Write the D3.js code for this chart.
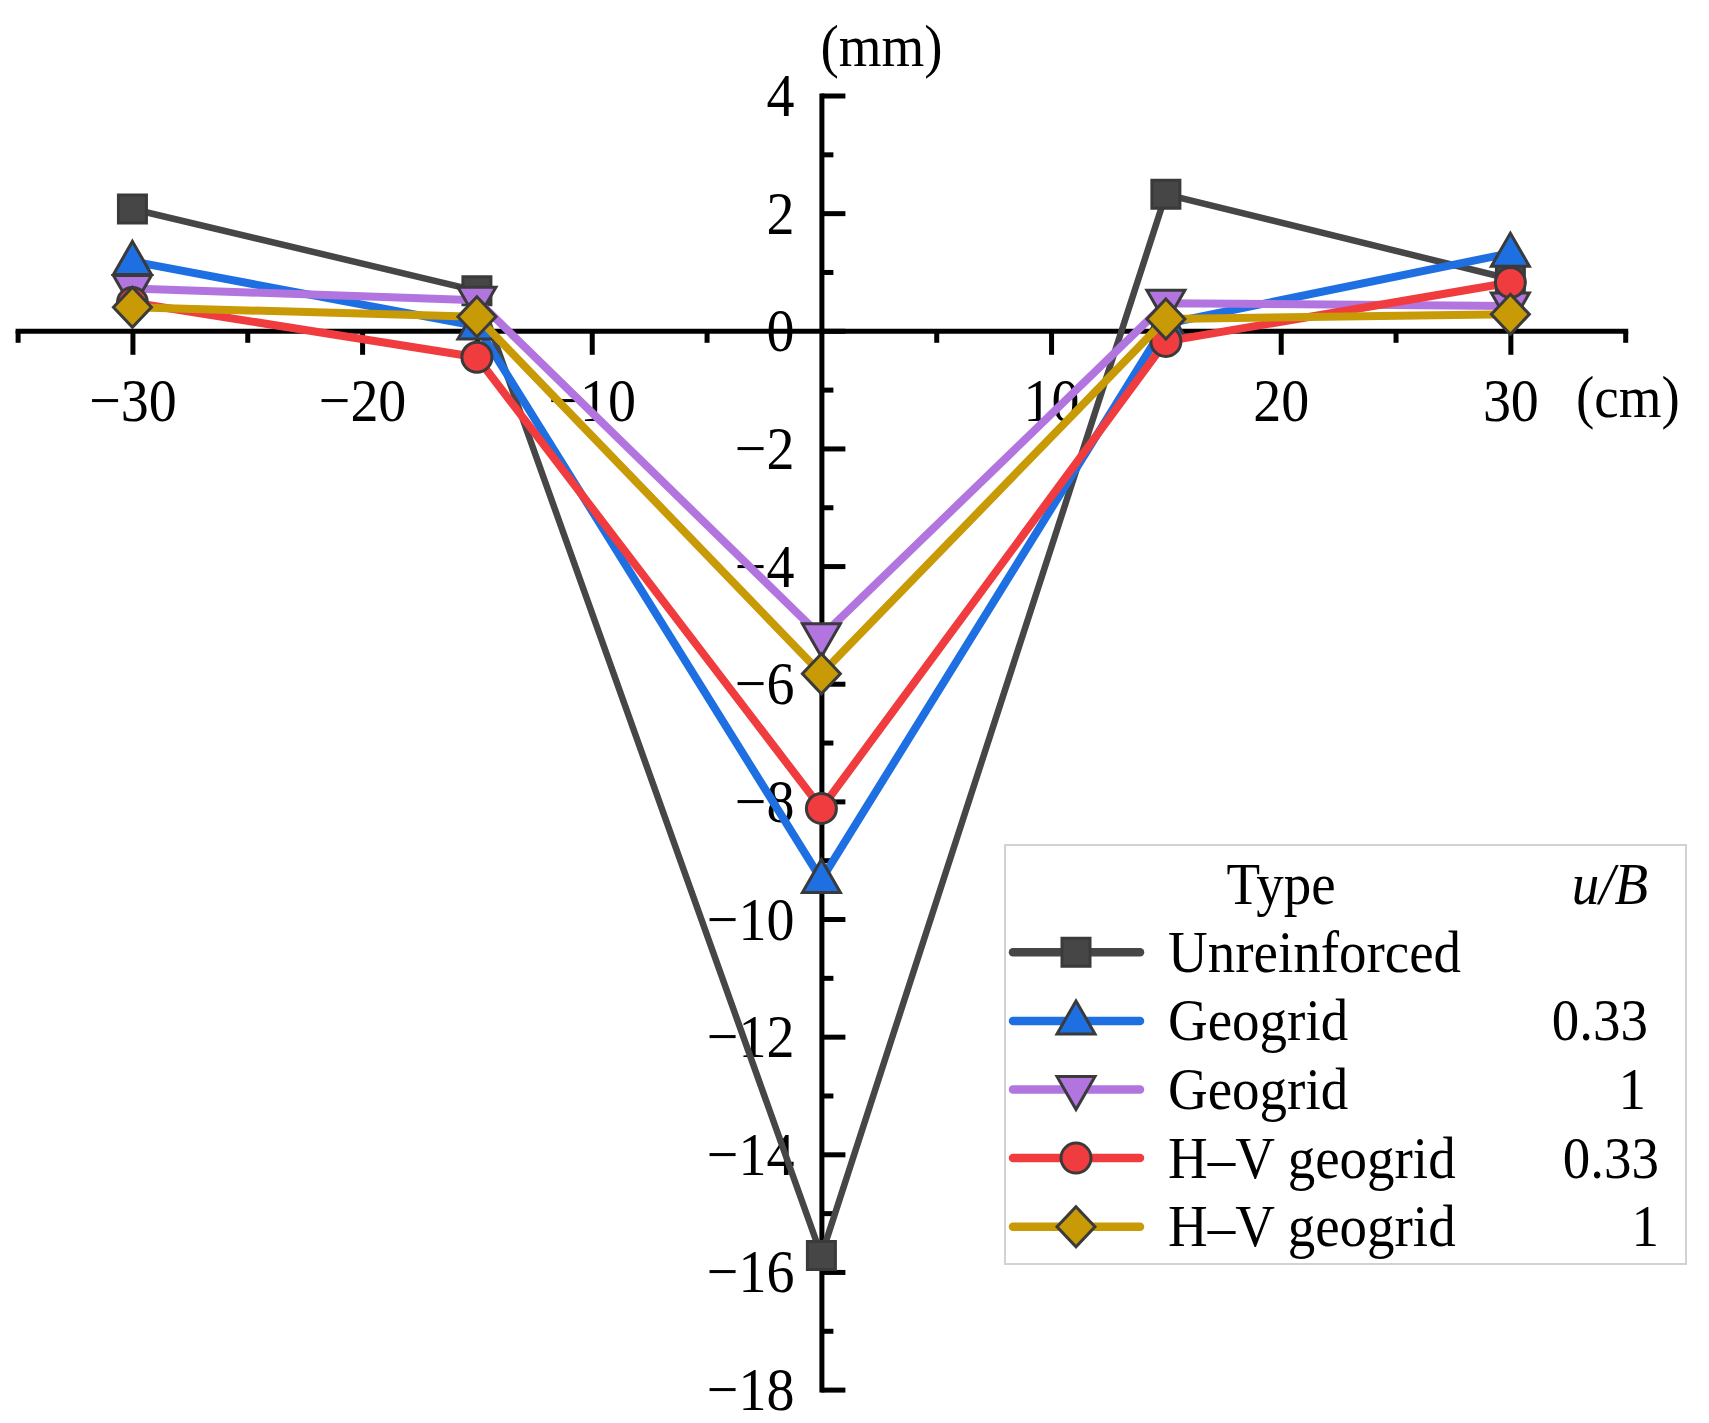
<!DOCTYPE html>
<html><head><meta charset="utf-8">
<script src="https://cdn.jsdelivr.net/npm/d3@7"></script>
<style>
html,body{margin:0;padding:0;background:#fff;}
svg text{font-family:"Liberation Serif","Times New Roman",serif;fill:#000;}
</style></head>
<body>
<svg id="chart" width="1709" height="1423"></svg>
<script>
// ---- data ----
const positions = [-30, -15, 0, 15, 30];               // cm
const seriesTypes = ["Unreinforced", "Geogrid", "Geogrid", "H\u2013V geogrid", "H\u2013V geogrid"];
const seriesRatio = ["", "0.33", "1", "0.33", "1"];
const unreinforced = [2.07, 0.68, -15.72, 2.32, 0.88];
const geogrid033   = [1.18, 0.08, -9.33, 0.12, 1.32];
const geogrid1     = [0.72, 0.52, -5.20, 0.47, 0.42];
const hvGeogrid033 = [0.48, -0.45, -8.12, -0.18, 0.82];
const hvGeogrid1   = [0.40, 0.24, -5.83, 0.20, 0.28];
const xMajorTicks = [-30, -20, -10, 10, 20, 30];
const xMinorTicks = [-35, -25, -15, -5, 5, 15, 25, 35];
const yMajorTicks = [4, 2, 0, -2, -4, -6, -8, -10, -12, -14, -16, -18];
const yMinorTicks = [3, 1, -1, -3, -5, -7, -9, -11, -13, -15, -17];

// ---- styles ----
const colors  = ["#464646", "#1d6fe2", "#b275e0", "#f03c3e", "#c89a06"];
const shapes  = ["square", "triUp", "triDown", "circle", "diamond"];
const widths  = [6.5, 8, 8, 8, 8];
const seriesValues = [unreinforced, geogrid033, geogrid1, hvGeogrid033, hvGeogrid1];

const svg = d3.select("#chart");
const x = d3.scaleLinear().domain([-35, 35]).range([17.6, 1625.2]);
const y = d3.scaleLinear().domain([-18, 4]).range([1389.6, 95.5]);
const FS = 55, TFS = 56, SY = 1.09;

function stretch(sel, sy) {
  sel.each(function () {
    const t = d3.select(this);
    const tx = +t.attr("x") || 0, ty = +t.attr("y") || 0;
    t.attr("x", null).attr("y", null).attr("transform", `translate(${tx},${ty}) scale(1,${sy})`);
  });
}

function markerPath(shape) {
  switch (shape) {
    case "square": return "M-14,-14H14V14H-14Z";
    case "triUp": return "M0,-20L19,13H-19Z";
    case "triDown": return "M0,20L19,-13H-19Z";
    case "circle": return "M15,0A15,15 0 1,1 -15,0A15,15 0 1,1 15,0Z";
    case "diamond": return "M0,-20L19,0L0,20L-19,0Z";
  }
}

// ---- axes ----
const xAxisG = svg.append("g").attr("transform", `translate(0,${y(0)})`);
xAxisG.call(d3.axisBottom(x).tickValues(xMajorTicks).tickSizeInner(24).tickSizeOuter(0)
  .tickFormat(d3.format("d")));
xAxisG.selectAll(".tick text").attr("dy", null).attr("y", 421 - y(0)).attr("x", 0);
const xMinorG = svg.append("g").attr("transform", `translate(0,${y(0)})`);
xMinorG.call(d3.axisBottom(x).tickValues(xMinorTicks).tickSizeInner(12).tickSizeOuter(0).tickFormat(""));
xMinorG.select(".domain").remove();

const yAxisG = svg.append("g").attr("transform", `translate(${x(0)},0)`);
yAxisG.call(d3.axisLeft(y).tickValues(yMajorTicks).tickSizeInner(-24).tickSizeOuter(0)
  .tickFormat(d3.format("d")));
yAxisG.selectAll(".tick text").attr("dy", null).attr("y", 20).attr("x", -27);
const yMinorG = svg.append("g").attr("transform", `translate(${x(0)},0)`);
yMinorG.call(d3.axisLeft(y).tickValues(yMinorTicks).tickSizeInner(-12).tickSizeOuter(0).tickFormat(""));
yMinorG.select(".domain").remove();

svg.selectAll(".domain").attr("stroke", "#000").attr("stroke-width", 5).attr("stroke-linecap", "square");
svg.selectAll(".tick line").attr("stroke", "#000").attr("stroke-width", 5);
svg.selectAll(".tick text").attr("font-size", TFS).attr("font-family", "Liberation Serif").attr("fill", "#000");
stretch(svg.selectAll(".tick text"), SY);

// axis unit labels
svg.append("text").attr("x", x(0) - 1).attr("y", 66).attr("font-size", FS).text("(mm)");
svg.append("text").attr("x", 1576).attr("y", 417).attr("font-size", FS).text("(cm)");

// ---- series ----
const line = d3.line().x((d, i) => x(positions[i])).y(d => y(d));
seriesValues.forEach((vals, s) => {
  const g = svg.append("g");
  g.append("path").attr("d", line(vals)).attr("fill", "none")
    .attr("stroke", colors[s]).attr("stroke-width", widths[s]).attr("stroke-linejoin", "round");
  g.selectAll("path.m").data(vals).join("path").attr("class", "m")
    .attr("transform", (d, i) => `translate(${x(positions[i])},${y(d)})`)
    .attr("d", markerPath(shapes[s]))
    .attr("fill", colors[s]).attr("stroke", "#3a3a3a").attr("stroke-width", 3);
});

// ---- legend ----
const lg = svg.append("g");
lg.append("rect").attr("x", 1005).attr("y", 845).attr("width", 681).attr("height", 419)
  .attr("fill", "#fff").attr("stroke", "#d2d2d2").attr("stroke-width", 2);
lg.append("text").attr("x", 1281).attr("y", 904).attr("text-anchor", "middle").attr("font-size", FS).text("Type");
lg.append("text").attr("x", 1648).attr("y", 904).attr("text-anchor", "end").attr("font-size", FS)
  .attr("font-style", "italic").text("u/B");
const ratioRight = [1648, 1648, 1646, 1659, 1659];
seriesValues.forEach((vals, s) => {
  const cy = 952.3 + s * 68.6;
  lg.append("line").attr("x1", 1013).attr("x2", 1140).attr("y1", cy).attr("y2", cy)
    .attr("stroke", colors[s]).attr("stroke-width", 8.5).attr("stroke-linecap", "round");
  lg.append("path").attr("transform", `translate(1076,${cy})`).attr("d", markerPath(shapes[s]))
    .attr("fill", colors[s]).attr("stroke", "#3a3a3a").attr("stroke-width", 3);
  lg.append("text").attr("x", 1168).attr("y", cy + 19.5).attr("font-size", FS).text(seriesTypes[s]);
  lg.append("text").attr("x", ratioRight[s]).attr("y", cy + 19.5).attr("text-anchor", "end")
    .attr("font-size", FS).text(seriesRatio[s]);
});
stretch(svg.selectAll("text").filter(function () {
  return !this.closest(".tick");
}), SY);
</script>
</body></html>
